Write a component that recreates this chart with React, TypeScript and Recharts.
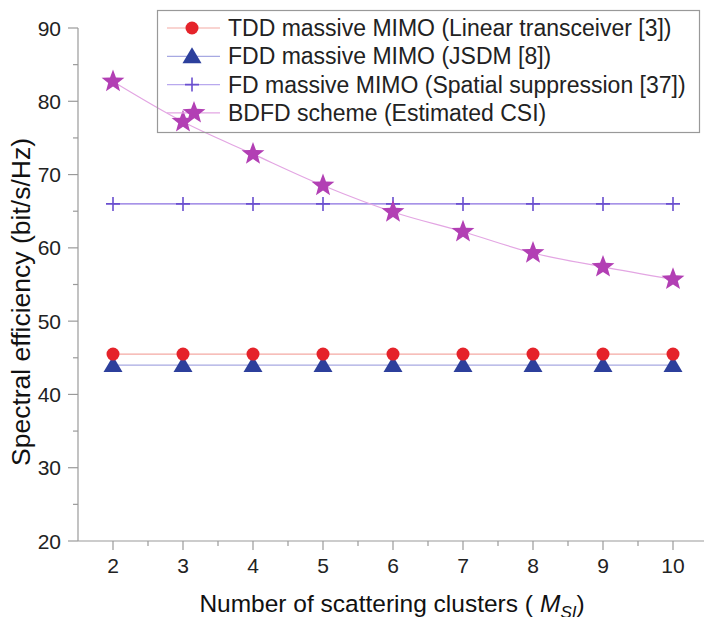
import { LineChart, Line, XAxis, YAxis, Legend } from "recharts";

const clusters = [2, 3, 4, 5, 6, 7, 8, 9, 10];
const tddLinear = [45.5, 45.5, 45.5, 45.5, 45.5, 45.5, 45.5, 45.5, 45.5];
const fddJsdm = [44, 44, 44, 44, 44, 44, 44, 44, 44];
const fdSpatial = [66, 66, 66, 66, 66, 66, 66, 66, 66];
const bdfdEstimated = [82.7, 77.2, 72.8, 68.5, 64.9, 62.2, 59.3, 57.4, 55.7];

const xTicks = [2, 2.5, 3, 3.5, 4, 4.5, 5, 5.5, 6, 6.5, 7, 7.5, 8, 8.5, 9, 9.5, 10, 10.5];
const yTicks = [20, 25, 30, 35, 40, 45, 50, 55, 60, 65, 70, 75, 80, 85, 90];

const legendLabels = [
  "TDD massive MIMO (Linear transceiver [3])",
  "FDD massive MIMO (JSDM [8])",
  "FD massive MIMO (Spatial suppression [37])",
  "BDFD scheme (Estimated CSI)",
];

const data = clusters.map((m, i) => ({
  m,
  tdd: tddLinear[i],
  fdd: fddJsdm[i],
  fd: fdSpatial[i],
  bdfd: bdfdEstimated[i],
}));

const FONT = "'Liberation Sans', Arial, sans-serif";
const AXIS = "#9a9a9a";

const starPath = (cx: number, cy: number, r: number) => {
  let d = "";
  for (let k = 0; k < 10; k++) {
    const rad = k % 2 === 0 ? r : r * 0.42;
    const a = -Math.PI / 2 + (k * Math.PI) / 5;
    d += (k === 0 ? "M" : "L") + (cx + rad * Math.cos(a)).toFixed(2) + "," + (cy + rad * Math.sin(a)).toFixed(2);
  }
  return d + "Z";
};

const Marker = ({ kind, cx, cy }: any) => {
  if (kind === "circle") return <circle cx={cx} cy={cy} r={6.5} fill="#e5232a" />;
  if (kind === "tri")
    return (
      <path
        d={`M${cx},${cy - 9}L${cx + 9.5},${cy + 7}L${cx - 9.5},${cy + 7}Z`}
        fill="#2c3f9c"
      />
    );
  if (kind === "plus")
    return (
      <path
        d={`M${cx - 7},${cy}H${cx + 7}M${cx},${cy - 7}V${cy + 7}`}
        stroke="#6a4fcf"
        strokeWidth={1.6}
        fill="none"
      />
    );
  return <path d={starPath(cx, cy, 12)} fill="#b23fb4" />;
};

const dotOf = (kind: string) => (p: any) => (
  <Marker key={`${kind}-${p.index}`} kind={kind} cx={p.cx} cy={p.cy} />
);

const YTick = ({ x, y, payload }: any) => {
  const major = payload.value % 10 === 0;
  return (
    <g>
      <line x1={x} x2={x - (major ? 10 : 5)} y1={y} y2={y} stroke={AXIS} strokeWidth={1.2} />
      {major && (
        <text x={x - 17} y={y + 7.5} textAnchor="end" fontSize={21} fill="#222" fontFamily={FONT}>
          {payload.value}
        </text>
      )}
    </g>
  );
};

const XTick = ({ x, y, payload }: any) => {
  const major = Number.isInteger(payload.value);
  return (
    <g>
      <line x1={x} x2={x} y1={y} y2={y + (major ? 9 : 5)} stroke={AXIS} strokeWidth={1.2} />
      {major && (
        <text x={x} y={y + 32} textAnchor="middle" fontSize={21} fill="#222" fontFamily={FONT}>
          {payload.value}
        </text>
      )}
    </g>
  );
};

const legendStyles = [
  { kind: "circle", line: "#f4a9a3" },
  { kind: "tri", line: "#a7a9e2" },
  { kind: "plus", line: "#b9a9ee" },
  { kind: "star", line: "#e3a6e3" },
];

const renderLegend = () => (
  <svg width={544} height={124} style={{ display: "block", overflow: "visible" }}>
    <rect x={0.5} y={0.5} width={542} height={122} fill="none" stroke="#999" strokeWidth={1.2} />
    {legendLabels.map((label, i) => {
      const cy = 18 + i * 28.3;
      const st = legendStyles[i];
      return (
        <g key={label}>
          <line x1={10} x2={63} y1={cy} y2={cy} stroke={st.line} strokeWidth={1.2} />
          <Marker kind={st.kind} cx={st.kind === "star" ? 37 : 35} cy={cy} />
          <text x={71} y={cy + 8} fontSize={23} fill="#222" fontFamily={FONT}>
            {label}
          </text>
        </g>
      );
    })}
  </svg>
);

export default function App() {
  return (
    <div style={{ position: "absolute", left: 0, top: 0, width: 704, height: 617, overflow: "hidden", background: "#fff" }}>
      <LineChart width={710} height={617} data={data} margin={{ top: 28, right: 2, bottom: 0, left: 0 }}>
        <XAxis
          dataKey="m"
          type="number"
          domain={[1.5, 10.5]}
          ticks={xTicks}
          interval={0}
          allowDataOverflow
          height={76}
          stroke={AXIS}
          strokeWidth={1.2}
          tickSize={0}
          tickMargin={0}
          tick={<XTick />}
        />
        <YAxis
          type="number"
          domain={[20, 90]}
          ticks={yTicks}
          interval={0}
          width={78}
          stroke={AXIS}
          strokeWidth={1.2}
          tickSize={0}
          tickMargin={0}
          tick={<YTick />}
        />
        <Legend
          layout="vertical"
          align="center"
          verticalAlign="middle"
          content={renderLegend}
          wrapperStyle={{ position: "absolute", left: 157, top: 10, width: 544, height: 124, bottom: "auto", right: "auto" }}
        />
        <Line dataKey="fd" stroke="#8a6fe0" strokeWidth={1.2} dot={dotOf("plus")} isAnimationActive={false} />
        <Line dataKey="fdd" stroke="#a7a9e2" strokeWidth={1.2} dot={dotOf("tri")} isAnimationActive={false} />
        <Line dataKey="tdd" stroke="#f4a9a3" strokeWidth={1.2} dot={dotOf("circle")} isAnimationActive={false} />
        <Line type="monotone" dataKey="bdfd" stroke="#e3a6e3" strokeWidth={1.2} dot={dotOf("star")} isAnimationActive={false} />
        <text x={30} y={302} transform="rotate(-90 30 302)" textAnchor="middle" fontSize={26.5} fill="#111" fontFamily={FONT}>
          Spectral efficiency (bit/s/Hz)
        </text>
        <text x={392} y={612} textAnchor="middle" fontSize={24.5} fill="#111" fontFamily={FONT}>
          Number of scattering clusters (
          <tspan fontStyle="italic" dx={7}>M</tspan>
          <tspan fontSize={17} fontStyle="italic" dy={6}>SI</tspan>
          <tspan dy={-6}>)</tspan>
        </text>
      </LineChart>
    </div>
  );
}
